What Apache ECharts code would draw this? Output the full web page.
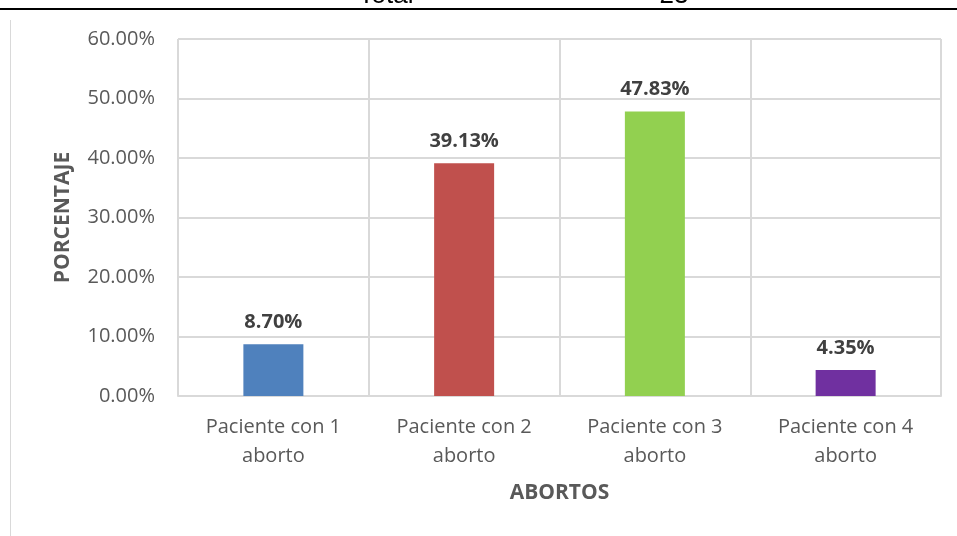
<!DOCTYPE html>
<html>
<head>
<meta charset="utf-8">
<script src="https://cdn.jsdelivr.net/npm/echarts@6/dist/echarts.min.js"></script>
<style>
  html, body { margin: 0; padding: 0; background: #fff; }
  #chart-ctn { width: 957px; height: 536px; }
</style>
</head>
<body>
<div id="chart-ctn"></div>
<script>
var categories = ['Paciente con 1\naborto', 'Paciente con 2\naborto', 'Paciente con 3\naborto', 'Paciente con 4\naborto'];
var values = [0.0870, 0.3913, 0.4783, 0.0435];
var colors = ['#4F81BD', '#C0504D', '#92D050', '#7030A0'];
var yTicks = [0, 0.1, 0.2, 0.3, 0.4, 0.5, 0.6];

var font = '"Open Sans", "Liberation Sans", sans-serif';
var myChart = echarts.init(document.getElementById('chart-ctn'));

var option = {
  animation: false,
  textStyle: { fontFamily: font },
  grid: { left: 178, right: 16, top: 39, bottom: 140 },
  xAxis: {
    type: 'category',
    data: categories,
    name: 'ABORTOS',
    nameLocation: 'middle',
    nameGap: 87,
    nameTextStyle: { fontSize: 21, fontWeight: 'bold', color: '#595959', fontFamily: font },
    axisLine: { lineStyle: { color: '#d9d9d9', width: 2 } },
    axisTick: { show: false },
    axisLabel: { fontSize: 20, color: '#595959', lineHeight: 29, margin: 17, fontFamily: font },
    splitLine: { show: true, lineStyle: { color: '#d9d9d9', width: 2 } }
  },
  yAxis: {
    type: 'value',
    min: yTicks[0],
    max: yTicks[yTicks.length - 1],
    interval: 0.1,
    name: 'PORCENTAJE',
    nameLocation: 'middle',
    nameGap: 104,
    nameTextStyle: { fontSize: 21, fontWeight: 'bold', color: '#595959', fontFamily: font },
    axisLine: { show: false },
    axisTick: { show: false },
    axisLabel: {
      fontSize: 20, color: '#595959', margin: 23, fontFamily: font,
      formatter: function (v) { return (v * 100).toFixed(2) + '%'; }
    },
    splitLine: { lineStyle: { color: '#d9d9d9', width: 2 } }
  },
  series: [{
    type: 'bar',
    barWidth: 60,
    data: values.map(function (v, i) {
      return { value: v, itemStyle: { color: colors[i] } };
    }),
    label: {
      show: true,
      position: 'top',
      distance: 12,
      fontSize: 20,
      fontWeight: 'bold',
      color: '#404040',
      fontFamily: font,
      formatter: function (p) { return (p.value * 100).toFixed(2) + '%'; }
    }
  }],
  graphic: [
    { type: 'line', shape: { x1: 0, y1: 9, x2: 957, y2: 9 }, style: { stroke: '#000', lineWidth: 2 } },
    { type: 'line', shape: { x1: 10.5, y1: 10, x2: 10.5, y2: 536 }, style: { stroke: '#d9d9d9', lineWidth: 1 } },
    { type: 'text', x: 386, y: -17, z: 0, style: { text: 'Total', fontSize: 26, fill: '#000', textAlign: 'center', fontFamily: '"Liberation Sans", sans-serif' } },
    { type: 'text', x: 674, y: -17, z: 0, style: { text: '23', fontSize: 26, fill: '#000', textAlign: 'center', fontFamily: '"Liberation Sans", sans-serif' } },
    { type: 'rect', shape: { x: 0, y: 10, width: 957, height: 10 }, style: { fill: '#fff' }, z: 1 }
  ]
};

myChart.setOption(option);
</script>
</body>
</html>
